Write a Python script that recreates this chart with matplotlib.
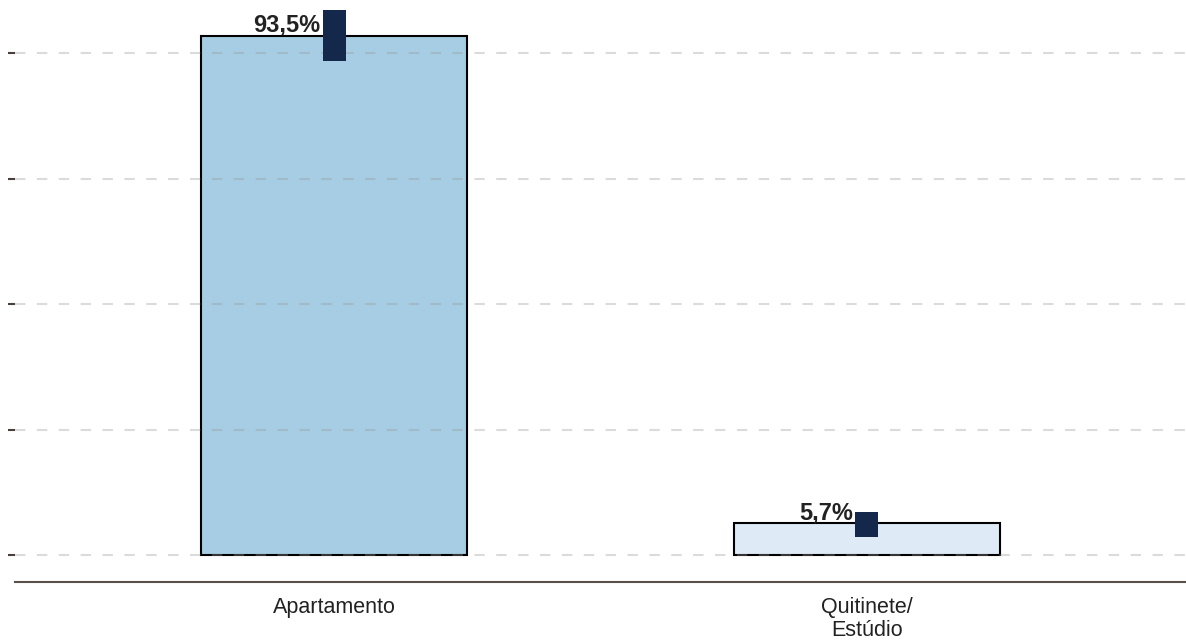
import matplotlib.pyplot as plt
import numpy as np

categorias = ["Apartamento", "Quitinete/\nEstúdio"]
valores = [93.5, 5.7]
ic_inf = [89.0, 3.3]
ic_sup = [98.2, 7.7]
rotulos = ["93,5%", "5,7%"]
cores = ["#a6cde3", "#deebf7"]
grade = [0, 22.6, 45.2, 67.8, 90.4]

plt.rcParams['font.family'] = ['Liberation Sans', 'DejaVu Sans']

fig = plt.figure(figsize=(11.86, 6.42), dpi=100)
ax = fig.add_axes([15 / 1186, 60 / 642, 1 - 15 / 1186, 582 / 642])

x = np.arange(len(categorias))
ax.bar(x, valores, width=0.5, color=cores, edgecolor="black", linewidth=1.5, zorder=2)

# intervalo de confianca como retangulo escuro
alt = np.array(ic_sup) - np.array(ic_inf)
ax.bar(x, alt, bottom=ic_inf, width=0.042, color="#14284b", zorder=4)

for i in range(len(x)):
    ax.annotate(rotulos[i], (x[i] - 0.021, valores[i]), xytext=(-2, 3),
                textcoords="offset points", ha="right", va="baseline",
                fontsize=17, fontweight="bold", color="#222222", zorder=5)

ax.set_xlim(-0.6, 1.6)
ax.set_ylim(-4.86, 100)
ax.set_yticks(grade)
ax.set_yticklabels([])
ax.yaxis.grid(True, color="#999999", alpha=0.35, linewidth=1.5, linestyle=(0, (5, 5.5)), zorder=3)
ax.set_axisbelow(False)
ax.tick_params(axis="y", length=5, width=1.5, color="#4a4038")
ax.tick_params(axis="x", length=0, pad=11, labelsize=15.5, labelcolor="#222222")
ax.set_xticks(x)
ax.set_xticklabels(categorias, linespacing=1.1)

for s in ["left", "right", "top"]:
    ax.spines[s].set_visible(False)
ax.spines["bottom"].set_color("#5a5048")
ax.spines["bottom"].set_linewidth(1.5)

fig.savefig("out.png", dpi=100)
